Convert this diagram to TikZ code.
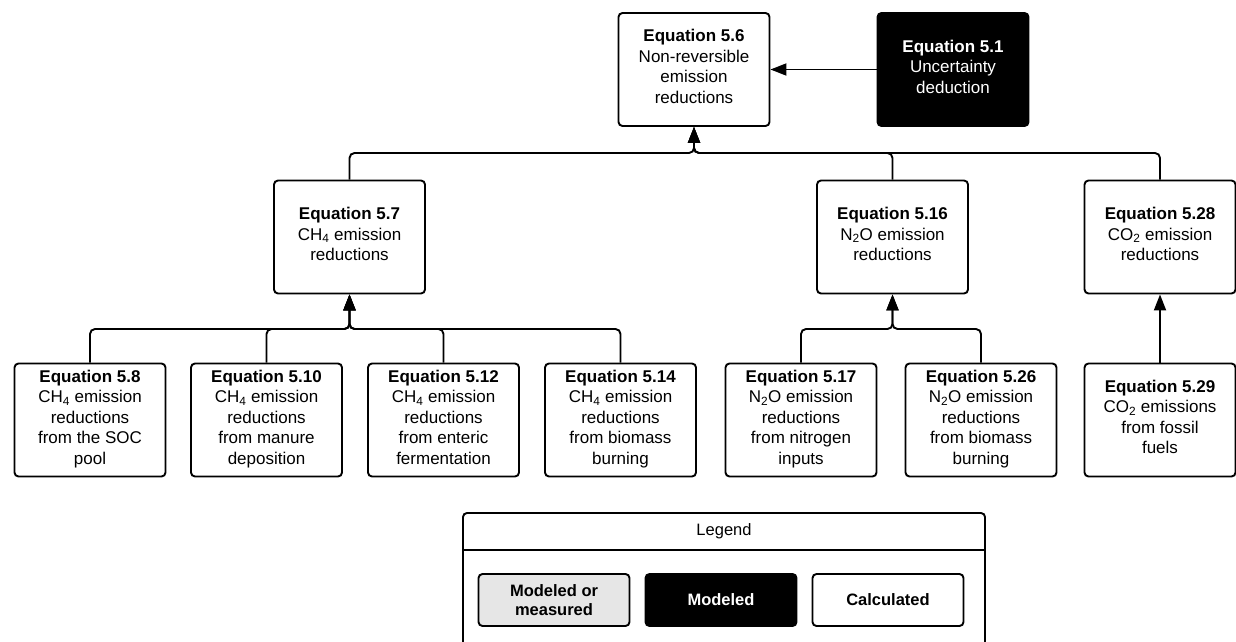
\documentclass[tikz,border=0pt]{standalone}
\usepackage{fontspec}
\setmainfont{Liberation Sans}
\usetikzlibrary{arrows.meta}
\newcommand{\ls}{\strut}
\tikzset{
  eqbox/.style={draw=black, line width=1.9pt, rounded corners=4pt, fill=white,
    minimum width=151pt, minimum height=113pt, inner sep=2pt, align=center,
    font=\fontsize{17}{20.5}\selectfont},
  blackbox/.style={eqbox, fill=black, text=white},
  legbox/.style={draw=black, line width=1.9pt, rounded corners=4pt,
    minimum width=151pt, minimum height=52pt, inner sep=2pt, align=center,
    font=\fontsize{16.5}{18.5}\selectfont\bfseries},
  conn/.style={draw=black, line width=1.9pt, rounded corners=5pt,
    -{Triangle[width=12pt,length=16pt]}},
  straightconn/.style={draw=black, line width=1.9pt,
    -{Triangle[width=12pt,length=16pt]}},
}
\begin{document}
\begin{tikzpicture}[x=1pt,y=-1pt]
\useasboundingbox (0,0) rectangle (1236,642);
% top level
\node[eqbox] (e56) at (694,69.5) {\textbf{Equation 5.6}\\Non-reversible\\emission\\reductions\ls};
\node[blackbox] (e51) at (953,69.5) {\textbf{Equation 5.1}\\Uncertainty\\deduction\ls};
% second level
\node[eqbox] (e57) at (349.5,237) {\textbf{Equation 5.7}\\CH\textsubscript{4} emission\\reductions\ls};
\node[eqbox] (e516) at (892.5,237) {\textbf{Equation 5.16}\\N\textsubscript{2}O emission\\reductions\ls};
\node[eqbox] (e528) at (1160,237) {\textbf{Equation 5.28}\\CO\textsubscript{2} emission\\reductions\ls};
% third level
\node[eqbox] (e58) at (90,420) {\textbf{Equation 5.8}\\CH\textsubscript{4} emission\\reductions\\from the SOC\\pool\ls};
\node[eqbox] (e510) at (266.5,420) {\textbf{Equation 5.10}\\CH\textsubscript{4} emission\\reductions\\from manure\\deposition\ls};
\node[eqbox] (e512) at (443.5,420) {\textbf{Equation 5.12}\\CH\textsubscript{4} emission\\reductions\\from enteric\\fermentation\ls};
\node[eqbox] (e514) at (620.5,420) {\textbf{Equation 5.14}\\CH\textsubscript{4} emission\\reductions\\from biomass\\burning\ls};
\node[eqbox] (e517) at (801,420) {\textbf{Equation 5.17}\\N\textsubscript{2}O emission\\reductions\\from nitrogen\\inputs\ls};
\node[eqbox] (e526) at (981,420) {\textbf{Equation 5.26}\\N\textsubscript{2}O emission\\reductions\\from biomass\\burning\ls};
\node[eqbox] (e529) at (1160,420) {\textbf{Equation 5.29}\\CO\textsubscript{2} emissions\\from fossil\\fuels\ls};
% junctions
\coordinate (jtop) at (694,153);
\coordinate (jch4) at (349.5,329);
\coordinate (jn2o) at (892.5,329);
% connectors
\draw[straightconn] (e51.west) -- (e56.east);
\draw[conn] (e57.north) |- (jtop) -- (e56.south);
\draw[conn] (e516.north) |- (jtop) -- (e56.south);
\draw[conn] (e528.north) |- (jtop) -- (e56.south);
\draw[conn] (e58.north) |- (jch4) -- (e57.south);
\draw[conn] (e510.north) |- (jch4) -- (e57.south);
\draw[conn] (e512.north) |- (jch4) -- (e57.south);
\draw[conn] (e514.north) |- (jch4) -- (e57.south);
\draw[conn] (e517.north) |- (jn2o) -- (e516.south);
\draw[conn] (e526.north) |- (jn2o) -- (e516.south);
\draw[straightconn] (e529.north) -- (e528.south);
% legend
\coordinate (lgA) at (463,650);
\coordinate (lgB) at (463,513);
\coordinate (lgC) at (985,513);
\coordinate (lgD) at (985,650);
\draw[line width=1.9pt, rounded corners=4pt] (lgA) -- (lgB) -- (lgC) -- (lgD);
\coordinate (lhL) at (463,550);
\coordinate (lhR) at (985,550);
\draw[line width=1.9pt] (lhL) -- (lhR);
\node[font=\fontsize{16.5}{18.5}\selectfont] (legtitle) at (724,531) {Legend};
\node[legbox, fill={rgb,255:red,230;green,230;blue,230}] (lg1) at (554,600) {Modeled or\\measured};
\node[legbox, fill=black, text=white] (lg2) at (721,600) {Modeled};
\node[legbox, fill=white] (lg3) at (888,600) {Calculated};
\end{tikzpicture}
\end{document}
